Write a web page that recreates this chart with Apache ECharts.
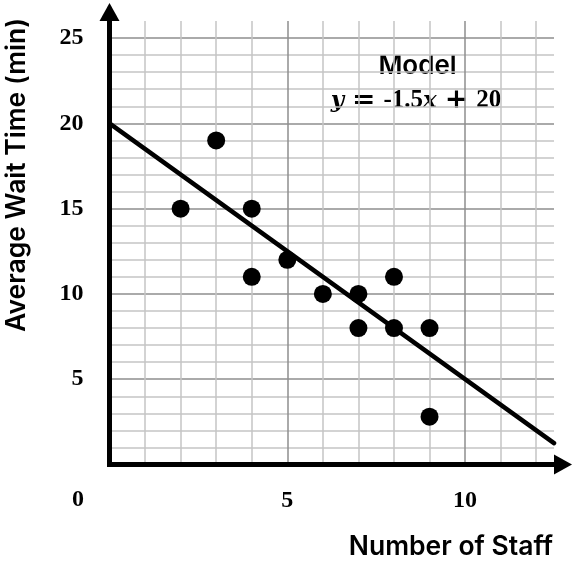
<!DOCTYPE html>
<html>
<head>
<meta charset="utf-8">
<script src="https://cdn.jsdelivr.net/npm/echarts@6/dist/echarts.min.js"></script>
<style>
  html, body { margin: 0; padding: 0; background: #fff; }
  #chart { width: 572px; height: 561px; }
</style>
</head>
<body>
<div id="chart"></div>
<script>
// Observed data: staff on duty vs. average wait time
const staff    = [2, 3, 4, 4, 5, 6, 7, 7, 8, 8, 9, 9];
const waitTime = [15, 19, 15, 11, 12, 10, 10, 8, 11, 8, 8, 2.8];

// Fitted model line endpoints (y = -1.5x + 20)
const modelX = [0, 12.5];
const modelY = [20, 1.25];

// Labelled ticks
const xTickLabels = [5, 10];
const yTickLabels = [5, 10, 15, 20, 25];

const X_MAX = 12.5, Y_MAX = 26;

const MINOR = '#c4c4c4', MAJOR = '#8e8e8e';
// Split lines drawn for ticks 1..(max-1); every fifth one is darker
function gridColors(count) {
  const c = [];
  for (let v = 1; v <= count; v++) c.push(v % 5 === 0 ? MAJOR : MINOR);
  return c;
}

const SERIF = '"Liberation Serif", serif';
const MATH = '"DejaVu Serif", serif';
const digitFont = { fontFamily: SERIF, fontWeight: 'bold', fontSize: 24, color: '#000' };
const titleFont = 'Inter, "Liberation Sans", sans-serif';

const axisLine = {
  show: true,
  symbol: ['none', 'triangle'],
  symbolSize: [20, 18],
  symbolOffset: [0, 9],
  lineStyle: { color: '#000', width: 5, cap: 'square' }
};

const chart = echarts.init(document.getElementById('chart'), null, { renderer: 'canvas' });

chart.setOption({
  animation: false,
  backgroundColor: '#fff',
  grid: { left: 109.5, right: 18, top: 21, bottom: 96.5, containLabel: false },
  xAxis: {
    type: 'value', min: 0, max: X_MAX, interval: 1,
    axisLine: axisLine,
    axisTick: { show: false },
    axisLabel: {
      margin: 24, ...digitFont,
      showMaxLabel: false,
      formatter: v => xTickLabels.includes(v) ? String(v) : ''
    },
    splitLine: {
      show: true, showMinLine: false, showMaxLine: false,
      lineStyle: { color: gridColors(12), width: 1.5 }
    }
  },
  yAxis: {
    type: 'value', min: 0, max: Y_MAX, interval: 1,
    axisLine: axisLine,
    axisTick: { show: false },
    axisLabel: {
      margin: 26, ...digitFont,
      showMaxLabel: false,
      formatter: v => yTickLabels.includes(v) ? String(v) : ''
    },
    splitLine: {
      show: true, showMinLine: false, showMaxLine: false,
      lineStyle: { color: gridColors(25), width: 1.5 }
    }
  },
  series: [
    {
      type: 'line',
      data: modelX.map((x, i) => [x, modelY[i]]),
      symbol: 'none',
      lineStyle: { color: '#000', width: 4.5, cap: 'round' },
      z: 3
    },
    {
      type: 'scatter',
      data: staff.map((x, i) => [x, waitTime[i]]),
      symbol: 'circle',
      symbolSize: 18,
      itemStyle: { color: '#000', opacity: 1 },
      z: 4
    }
  ],
  graphic: [
    {
      type: 'text', x: 78, y: 500,
      style: { text: '0', align: 'center', verticalAlign: 'middle',
        font: 'bold 24px ' + SERIF, fill: '#000' }
    },
    {
      type: 'text', x: 17, y: 175, rotation: Math.PI / 2,
      style: { text: 'Average Wait Time (min)', align: 'center', verticalAlign: 'middle',
        font: '600 26.5px ' + titleFont, fill: '#000' }
    },
    {
      type: 'text', x: 553, y: 547,
      style: { text: 'Number of Staff', align: 'right', verticalAlign: 'middle',
        font: '600 26.5px ' + titleFont, fill: '#000' }
    },
    {
      type: 'text', x: 417.5, y: 66,
      style: { text: 'Model', align: 'center', verticalAlign: 'middle',
        font: '600 26px ' + titleFont, fill: '#000', backgroundColor: '#fff' }
    },
    {
      type: 'text', x: 416, y: 101,
      style: {
        text: '{it|y}{op|=}{b|-1.5}{it|x}{op|+}{b|20}',
        align: 'center', verticalAlign: 'middle',
        rich: {
          it: { fontFamily: MATH, fontStyle: 'italic', fontWeight: 'bold', fontSize: 23, color: '#000' },
          op: { fontFamily: MATH, fontWeight: 'bold', fontSize: 28, color: '#000', padding: [0, 8] },
          b: { fontFamily: SERIF, fontWeight: 'bold', fontSize: 25, color: '#000' }
        }
      }
    }
  ]
});
</script>
</body>
</html>
